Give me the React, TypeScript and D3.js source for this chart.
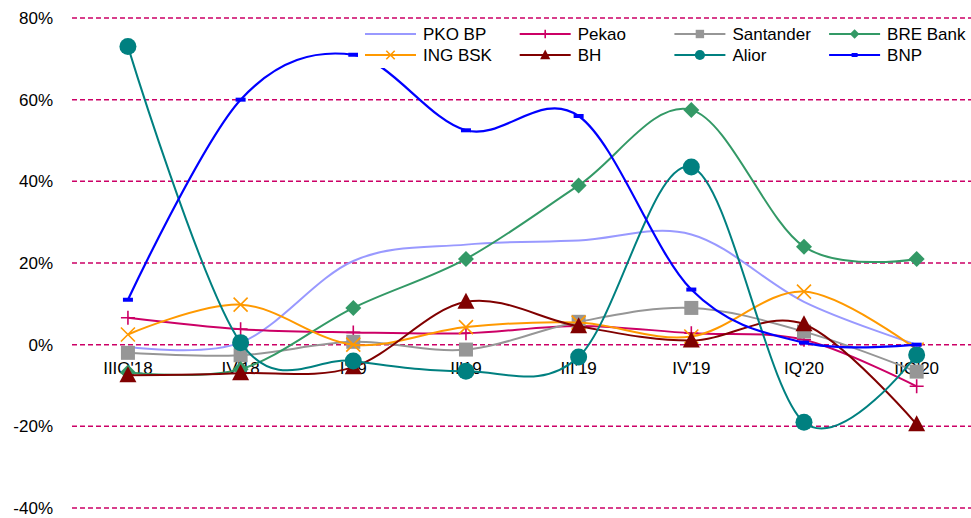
import React, {useEffect, useRef} from 'react'
import * as d3 from 'd3'

const categories = ["IIIQ'18", "IV'18", "I'19", "II'19", "III'19", "IV'19", "IQ'20", "IIQ'20"]
const yTicks = [-0.4, -0.2, 0, 0.2, 0.4, 0.6, 0.8]

const pkoBp = [-0.5, 0.5, 20.5, 24.5, 25.5, 27, 10.5, 0]
const pekao = [6.6, 3.8, 3, 2.8, 4.6, 2.8, 1.2, -10.2]
const santander = [-2, -2.6, 0.7, -1.2, 5.6, 9, 3.2, -6.6]
const breBank = [-6.8, -6, 9, 21, 39, 57.5, 24, 21]
const ingBsk = [2.5, 9.8, 0, 4.3, 5.4, 2, 13, -1.2]
const bh = [-7.5, -7, -5.5, 10.5, 4.5, 1, 5, -19.5]
const alior = [73, 0.5, -4, -6.5, -3, 43.5, -19, -2.5]
const bnp = [11, 60, 71, 52.5, 56, 13.5, 0.5, 0]

type Marker = 'none' | 'plus' | 'square' | 'diamond' | 'x' | 'triangle' | 'circle' | 'dash'
type Series = {name: string, values: number[], color: string, marker: Marker, width: number}

const series: Series[] = [
    {name: 'PKO BP', values: pkoBp, color: '#9999FF', marker: 'none', width: 2},
    {name: 'Pekao', values: pekao, color: '#CC0066', marker: 'plus', width: 2},
    {name: 'Santander', values: santander, color: '#969696', marker: 'square', width: 2},
    {name: 'BRE Bank', values: breBank, color: '#339966', marker: 'diamond', width: 2},
    {name: 'ING BSK', values: ingBsk, color: '#FF9900', marker: 'x', width: 2},
    {name: 'BH', values: bh, color: '#800000', marker: 'triangle', width: 2},
    {name: 'Alior', values: alior, color: '#008080', marker: 'circle', width: 2},
    {name: 'BNP', values: bnp, color: '#0000FF', marker: 'dash', width: 2.2},
]

const W = 971
const H = 518
const FONT = 'Liberation Sans, Arial, sans-serif'
const FS = 17

function drawMarker(g: d3.Selection<SVGGElement, unknown, null, undefined>, kind: Marker, cx: number, cy: number, color: string, k = 1) {
    switch (kind) {
        case 'plus':
            g.append('path').attr('d', `M${cx - 7 * k},${cy}H${cx + 7 * k}M${cx},${cy - 7 * k}V${cy + 7 * k}`)
                .attr('stroke', color).attr('stroke-width', 1.6).attr('fill', 'none')
            break
        case 'x':
            g.append('path').attr('d', `M${cx - 7 * k},${cy - 7 * k}L${cx + 7 * k},${cy + 7 * k}M${cx - 7 * k},${cy + 7 * k}L${cx + 7 * k},${cy - 7 * k}`)
                .attr('stroke', color).attr('stroke-width', 1.6).attr('fill', 'none')
            break
        case 'square':
            g.append('rect').attr('x', cx - 7 * k).attr('y', cy - 7 * k).attr('width', 14 * k).attr('height', 14 * k).attr('fill', color)
            break
        case 'diamond':
            g.append('path').attr('d', `M${cx},${cy - 8 * k}L${cx + 8 * k},${cy}L${cx},${cy + 8 * k}L${cx - 8 * k},${cy}Z`).attr('fill', color)
            break
        case 'triangle':
            g.append('path').attr('d', `M${cx},${cy - 9 * k}L${cx + 8.5 * k},${cy + 7 * k}L${cx - 8.5 * k},${cy + 7 * k}Z`).attr('fill', color)
            break
        case 'circle':
            g.append('circle').attr('cx', cx).attr('cy', cy).attr('r', 8.5 * k).attr('fill', color)
            break
        case 'dash':
            g.append('rect').attr('x', cx - 5 * k).attr('y', cy - 2).attr('width', 10 * k).attr('height', 4).attr('fill', color)
            break
        default:
            break
    }
}

export default function App() {
    const svgRef = useRef<SVGSVGElement>(null)

    useEffect(() => {
        const svg = d3.select(svgRef.current)
        svg.selectAll('*').remove()

        const x = d3.scaleBand<string>().domain(categories).range([71.6, 973])
        const cx = (c: string) => (x(c) || 0) + x.bandwidth() / 2
        const y = d3.scaleLinear().domain([-0.4, 0.8]).range([508, 18])
        // Excel style percent with a plain hyphen
        const pct = (t: number) => d3.format('.0%')(t).replace('\u2212', '-')

        svg.append('rect').attr('width', W).attr('height', H).attr('fill', '#fff')

        // gridlines + y labels
        const grid = svg.append('g')
        yTicks.forEach((t) => {
            grid.append('line')
                .attr('x1', 72).attr('x2', W)
                .attr('y1', y(t)).attr('y2', y(t))
                .attr('stroke', '#CC0066').attr('stroke-width', 1.5)
                .attr('stroke-dasharray', '5,3')
            grid.append('text')
                .attr('x', 53).attr('y', y(t))
                .attr('dy', '0.35em').attr('text-anchor', 'end')
                .attr('font-family', FONT).attr('font-size', FS).attr('fill', '#000')
                .text(pct(t))
        })

        // x labels
        svg.append('g').selectAll('text').data(categories).join('text')
            .attr('x', (d) => cx(d)).attr('y', y(0) + 23)
            .attr('dy', '0.35em').attr('text-anchor', 'middle')
            .attr('font-family', FONT).attr('font-size', FS).attr('fill', '#000')
            .text((d) => d)

        const line = d3.line<number>()
            .x((_, i) => cx(categories[i]))
            .y((v) => y(v / 100))
            .curve(d3.curveCatmullRom.alpha(0))

        series.forEach((s) => {
            const g = svg.append('g')
            g.append('path')
                .attr('d', line(s.values))
                .attr('fill', 'none')
                .attr('stroke', s.color)
                .attr('stroke-width', s.width)
            s.values.forEach((v, i) => drawMarker(g, s.marker, cx(categories[i]), y(v / 100), s.color))
        })

        // legend (white box hides the lines behind it)
        const lg = svg.append('g')
        lg.append('rect').attr('x', 358).attr('y', 23).attr('width', 613).attr('height', 45).attr('fill', '#fff')
        series.forEach((s, i) => {
            const col = i % 4
            const row = Math.floor(i / 4)
            const lx = 365 + col * 154.7
            const ly = 34 + row * 21
            const item = lg.append('g')
            item.append('line').attr('x1', lx).attr('x2', lx + 51).attr('y1', ly).attr('y2', ly)
                .attr('stroke', s.color).attr('stroke-width', s.width)
            drawMarker(item, s.marker, lx + 25.5, ly, s.color, 0.6)
            item.append('text')
                .attr('x', lx + 58).attr('y', ly).attr('dy', '0.35em')
                .attr('font-family', FONT).attr('font-size', FS).attr('fill', '#000')
                .text(s.name)
        })
    }, [])

    return (
        <svg ref={svgRef} width={W} height={H}
             style={{position: 'absolute', left: 0, top: 0, display: 'block'}}/>
    )
}
